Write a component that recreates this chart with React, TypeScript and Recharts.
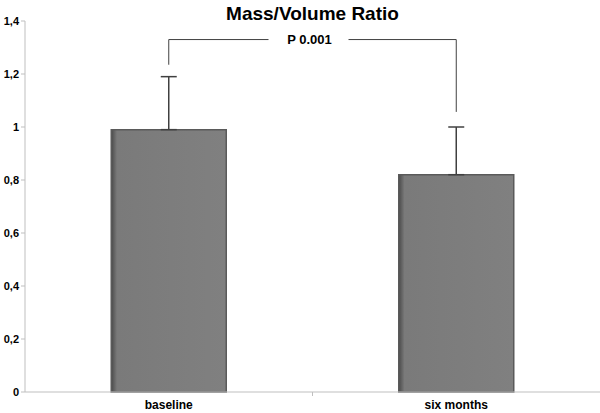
import { Bar, BarChart, ErrorBar, ReferenceLine, XAxis, YAxis, usePlotArea } from "recharts"

const categories = ["baseline", "six months"]
const ratio = [0.99, 0.82]
const errorUp = [0.2, 0.18]
const yTicks = [0, 0.2, 0.4, 0.6, 0.8, 1, 1.2, 1.4]
const title = "Mass/Volume Ratio"
const pLabel = "P 0.001"

const data = categories.map((name, i) => ({
  name,
  value: ratio[i],
  err: [0, errorUp[i]],
}))

const font = "'Liberation Sans Narrow', 'Liberation Sans', Arial, sans-serif"

function MidTick() {
  const plot = usePlotArea()
  if (!plot) return null
  const x = plot.x + plot.width / 2
  const y = plot.y + plot.height
  return <line x1={x} x2={x} y1={y} y2={y + 4} stroke="#bfbfbf" />
}

function PLabel(props: any) {
  const { viewBox } = props
  const cx = viewBox.x + viewBox.width / 2 - 3
  const cy = viewBox.y
  return (
    <g>
      <rect x={cx - 41} y={cy - 8} width={80} height={16} fill="#ffffff" />
      <text
        x={cx}
        y={cy + 4}
        textAnchor="middle"
        fontFamily={font}
        fontWeight="bold"
        fontSize={13}
        fill="#000"
      >
        {pLabel}
      </text>
    </g>
  )
}

export default function App() {
  return (
    <div style={{ position: "absolute", left: 0, top: 0, width: 600, height: 413, background: "#fff" }}>
      <div
        style={{
          position: "absolute",
          top: 0,
          left: 25,
          width: 575,
          textAlign: "center",
          fontFamily: font,
          fontWeight: "bold",
          fontSize: 19,
          lineHeight: "28px",
        }}
      >
        {title}
      </div>
      <BarChart
        width={600}
        height={413}
        data={data}
        margin={{ top: 21, right: 0, left: 0, bottom: 0 }}
        barCategoryGap="30%"
      >
        <defs>
          <linearGradient id="barShade" x1="0" y1="0" x2="1" y2="0">
            <stop offset="0" stopColor="#4a4a4a" />
            <stop offset="0.05" stopColor="#7a7a7a" />
            <stop offset="1" stopColor="#808080" />
          </linearGradient>
        </defs>
        <XAxis
          dataKey="name"
          stroke="#bfbfbf"
          tickLine={false}
          height={21}
          tick={{ fill: "#000", fontSize: 12, fontWeight: "bold", fontFamily: font }}
        />
        <YAxis
          domain={[0, 1.4]}
          ticks={yTicks}
          width={25}
          stroke="#bfbfbf"
          tickSize={4}
          tick={{ fill: "#000", fontSize: 11, fontWeight: "bold", fontFamily: font }}
          tickFormatter={(v) => `${v}`.replace(".", ",")}
        />
        <Bar
          dataKey="value"
          fill="url(#barShade)"
          stroke="#5a5a5a"
          strokeWidth={1.5}
          isAnimationActive={false}
        >
          <ErrorBar dataKey="err" direction="y" width={8} stroke="#404040" strokeWidth={1.5} />
        </Bar>
        <ReferenceLine
          segment={[
            { x: categories[0], y: 1.33 },
            { x: categories[1], y: 1.33 },
          ]}
          stroke="#404040"
          label={<PLabel />}
        />
        <ReferenceLine
          segment={[
            { x: categories[0], y: 1.33 },
            { x: categories[0], y: 1.235 },
          ]}
          stroke="#404040"
        />
        <ReferenceLine
          segment={[
            { x: categories[1], y: 1.33 },
            { x: categories[1], y: 1.057 },
          ]}
          stroke="#404040"
        />
        <MidTick />
      </BarChart>
    </div>
  )
}
